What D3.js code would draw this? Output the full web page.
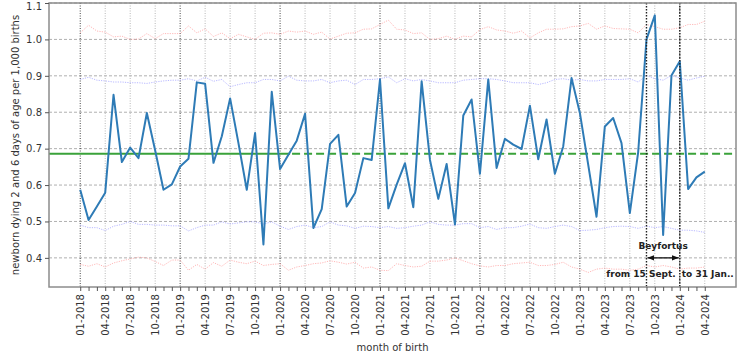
<!DOCTYPE html>
<html>
<head>
<meta charset="utf-8">
<script src="https://cdn.jsdelivr.net/npm/d3@7"></script>
<style>
html,body{margin:0;padding:0;background:#fff;}
svg{display:block;font-family:"DejaVu Sans",sans-serif;}
</style>
</head>
<body>
<svg id="chart" width="756" height="355"></svg>
<script>
// ---- data ----
const tickLabels = ["01-2018","04-2018","07-2018","10-2018","01-2019","04-2019","07-2019","10-2019",
  "01-2020","04-2020","07-2020","10-2020","01-2021","04-2021","07-2021","10-2021",
  "01-2022","04-2022","07-2022","10-2022","01-2023","04-2023","07-2023","10-2023",
  "01-2024","04-2024"];
const yTicks = [0.4,0.5,0.6,0.7,0.8,0.9,1.0,1.1];
const values = [0.587,0.504,0.541,0.579,0.848,0.663,0.703,0.674,0.798,0.695,
  0.587,0.602,0.651,0.672,0.882,0.878,0.661,0.734,0.838,0.715,
  0.587,0.743,0.437,0.856,0.644,0.683,0.722,0.796,0.482,0.534,
  0.713,0.738,0.541,0.578,0.674,0.669,0.890,0.536,0.601,0.660,
  0.539,0.885,0.669,0.562,0.658,0.492,0.791,0.835,0.631,0.890,
  0.647,0.727,0.711,0.699,0.818,0.671,0.780,0.631,0.706,0.894,
  0.798,0.656,0.513,0.761,0.784,0.715,0.523,0.690,1.000,1.066,
  0.463,0.901,0.940,0.589,0.621,0.637];
const upper99 = [1.018,1.039,1.023,1.020,1.007,1.009,1.000,1.001,1.016,1.002,
  1.016,1.016,1.016,1.037,1.018,1.029,1.008,1.018,1.002,1.014,
  1.007,1.000,1.017,1.018,1.014,1.023,1.020,1.023,1.014,1.020,
  1.001,1.009,1.017,1.018,1.028,1.029,1.041,1.053,1.028,1.026,
  1.016,1.018,1.000,1.002,1.009,1.000,1.009,1.007,1.027,1.035,
  1.026,1.023,1.017,1.023,1.004,1.018,1.028,1.028,1.029,1.035,
  1.037,1.044,1.028,1.037,1.030,1.029,1.028,1.018,1.041,1.035,
  1.028,1.028,1.032,1.041,1.041,1.050];
const upper95 = [0.890,0.896,0.888,0.886,0.883,0.883,0.881,0.881,0.879,0.883,
  0.886,0.888,0.888,0.892,0.886,0.896,0.885,0.890,0.870,0.876,
  0.881,0.881,0.890,0.890,0.886,0.899,0.888,0.886,0.886,0.890,
  0.881,0.886,0.888,0.876,0.890,0.890,0.892,0.897,0.881,0.892,
  0.886,0.890,0.886,0.881,0.881,0.881,0.888,0.890,0.892,0.892,
  0.890,0.886,0.881,0.881,0.881,0.876,0.881,0.890,0.892,0.888,
  0.890,0.886,0.886,0.890,0.890,0.890,0.892,0.883,0.901,0.892,
  0.888,0.901,0.894,0.888,0.894,0.899];
const lower95 = [0.490,0.483,0.483,0.475,0.487,0.492,0.500,0.492,0.492,0.490,
  0.490,0.488,0.488,0.474,0.483,0.490,0.490,0.499,0.493,0.496,
  0.499,0.499,0.493,0.499,0.487,0.478,0.486,0.490,0.483,0.486,
  0.499,0.490,0.488,0.481,0.487,0.486,0.483,0.486,0.481,0.483,
  0.487,0.490,0.499,0.492,0.490,0.490,0.494,0.494,0.483,0.486,
  0.478,0.483,0.483,0.487,0.493,0.483,0.481,0.486,0.490,0.486,
  0.475,0.476,0.478,0.483,0.486,0.487,0.486,0.481,0.487,0.483,
  0.486,0.481,0.476,0.476,0.474,0.470];
const lower99 = [0.382,0.377,0.384,0.375,0.386,0.392,0.397,0.402,0.400,0.390,
  0.379,0.394,0.394,0.366,0.382,0.369,0.387,0.377,0.394,0.388,
  0.384,0.391,0.379,0.382,0.384,0.366,0.375,0.379,0.384,0.386,
  0.392,0.388,0.383,0.388,0.372,0.375,0.366,0.365,0.384,0.379,
  0.375,0.377,0.391,0.391,0.394,0.400,0.392,0.384,0.378,0.375,
  0.379,0.379,0.384,0.386,0.388,0.379,0.379,0.382,0.388,0.375,
  0.369,0.360,0.369,0.372,0.369,0.369,0.366,0.369,0.379,0.375,
  0.379,0.375,0.369,0.372,0.372,0.375];
const baseline = 0.686;
const baselineSolidEnd = 25.2;   // month index where solid part ends
const beyfortusStart = 68, beyfortusEnd = 72;

// ---- layout ----
const svg = d3.select("#chart");
const L = 49, R = 736, T = 3, B = 287;
const n = values.length;
const pad = (n - 1) * 0.05;
const x = d3.scaleLinear().domain([-pad, n - 1 + pad]).range([L, R]);
const y = d3.scaleLinear().domain([0.32, 1.1]).range([B, T]);

// grids
const g = svg.append("g");
g.selectAll(".hg").data(yTicks).enter().append("line")
  .attr("x1", L).attr("x2", R).attr("y1", d => y(d)).attr("y2", d => y(d))
  .attr("stroke", "#b0b0b0").attr("stroke-width", 1).attr("stroke-dasharray", "3,2");
const majorIdx = d3.range(0, n, 3);
g.selectAll(".vg").data(majorIdx).enter().append("line")
  .attr("x1", d => x(d)).attr("x2", d => x(d)).attr("y1", T).attr("y2", B)
  .attr("stroke", d => d % 12 === 0 ? "#444" : "#b8b8b8")
  .attr("stroke-width", 1).attr("stroke-dasharray", "1,1.5");

// bounds
const lineGen = d3.line().x((d, i) => x(i)).y(d => y(d));
[[upper99, "#ff8a8a"], [lower99, "#ff8a8a"], [upper95, "#8a8aff"], [lower95, "#8a8aff"]].forEach(([arr, c]) => {
  svg.append("path").datum(arr).attr("d", lineGen).attr("fill", "none")
    .attr("stroke", c).attr("stroke-width", 1).attr("stroke-dasharray", "1.2,1.2").attr("opacity", 0.6);
});

// baseline
svg.append("line").attr("x1", L).attr("x2", x(baselineSolidEnd))
  .attr("y1", y(baseline)).attr("y2", y(baseline))
  .attr("stroke", "#3aa23a").attr("stroke-width", 2);
svg.append("line").attr("x1", x(baselineSolidEnd)).attr("x2", R)
  .attr("y1", y(baseline)).attr("y2", y(baseline))
  .attr("stroke", "#3aa23a").attr("stroke-width", 2).attr("stroke-dasharray", "8,4").attr("stroke-dashoffset", -2);

// main series
svg.append("path").datum(values).attr("d", lineGen).attr("fill", "none")
  .attr("stroke", "#2e7bb6").attr("stroke-width", 2).attr("stroke-linejoin", "round");

// Beyfortus vertical lines
[beyfortusStart, beyfortusEnd].forEach(m => {
  svg.append("line").attr("x1", x(m)).attr("x2", x(m)).attr("y1", T).attr("y2", B)
    .attr("stroke", "#222").attr("stroke-width", 1.4).attr("stroke-dasharray", "1.5,1.5");
});

// arrow
const defs = svg.append("defs");
["s", "e"].forEach(k => {
  defs.append("marker").attr("id", "arr" + k).attr("viewBox", "0 0 10 10")
    .attr("refX", k === "e" ? 10 : 0).attr("refY", 5).attr("markerWidth", 7).attr("markerHeight", 7)
    .attr("markerUnits", "userSpaceOnUse").attr("orient", "auto")
    .append("path").attr("d", k === "e" ? "M0,1 L10,5 L0,9 Z" : "M10,1 L0,5 L10,9 Z").attr("fill", "#111");
});
svg.append("line").attr("x1", x(beyfortusStart) + 1).attr("x2", x(beyfortusEnd) - 1)
  .attr("y1", y(0.40)).attr("y2", y(0.40)).attr("stroke", "#111").attr("stroke-width", 1.3)
  .attr("marker-start", "url(#arrs)").attr("marker-end", "url(#arre)");
svg.append("text").attr("x", (x(beyfortusStart) + x(beyfortusEnd)) / 2).attr("y", y(0.433))
  .attr("dy", "0.35em").attr("text-anchor", "middle").attr("font-size", 9).attr("font-weight", "bold")
  .attr("fill", "#222").text("Beyfortus");
svg.append("text").attr("x", x(beyfortusEnd) - 4).attr("y", y(0.357)).attr("dy", "0.35em")
  .attr("text-anchor", "end").attr("font-size", 9).attr("font-weight", "bold").attr("fill", "#222").text("from 15 Sept.");
svg.append("text").attr("x", x(beyfortusEnd) + 2).attr("y", y(0.357)).attr("dy", "0.35em")
  .attr("text-anchor", "start").attr("font-size", 9).attr("font-weight", "bold").attr("fill", "#222").text("to 31 Jan..");

// frame
svg.append("rect").attr("x", L).attr("y", T).attr("width", R - L).attr("height", B - T)
  .attr("fill", "none").attr("stroke", "#8c8c8c").attr("stroke-width", 1.5);

// axes
const xAxis = d3.axisBottom(x).tickValues(d3.range(0, n)).tickSize(4).tickSizeOuter(0)
  .tickFormat(i => i % 3 === 0 ? tickLabels[i / 3] : "");
const xa = svg.append("g").attr("transform", `translate(0,${B})`).call(xAxis);
xa.select(".domain").remove();
xa.selectAll(".tick line").attr("stroke", "#555");
xa.selectAll(".tick text").attr("transform", "rotate(-90)").attr("x", -7).attr("y", 0)
  .attr("dy", "0.35em").style("text-anchor", "end").attr("font-size", 10)
  .attr("font-family", "DejaVu Sans").attr("fill", "#333");

const yAxis = d3.axisLeft(y).tickValues(yTicks).tickSize(4).tickFormat(d3.format(".1f"));
const ya = svg.append("g").attr("transform", `translate(${L},0)`).call(yAxis);
ya.select(".domain").remove();
ya.selectAll(".tick line").attr("stroke", "#555");
ya.selectAll(".tick text").attr("font-size", 10).attr("font-family", "DejaVu Sans").attr("fill", "#333").attr("x", -7)
  .attr("dy", d => d >= 1.1 ? "0.6em" : "0.32em");

// axis labels
svg.append("text").attr("transform", `translate(15,${(T + B) / 2}) rotate(-90)`)
  .attr("text-anchor", "middle").attr("dy", "0.35em").attr("font-size", 10).attr("fill", "#333")
  .text("newborn dying 2 and 6 days of age per 1,000 births");
svg.append("text").attr("x", (L + R) / 2).attr("y", 347).attr("dy", "0.35em")
  .attr("text-anchor", "middle").attr("font-size", 10).attr("fill", "#333").text("month of birth");
</script>
</body>
</html>
